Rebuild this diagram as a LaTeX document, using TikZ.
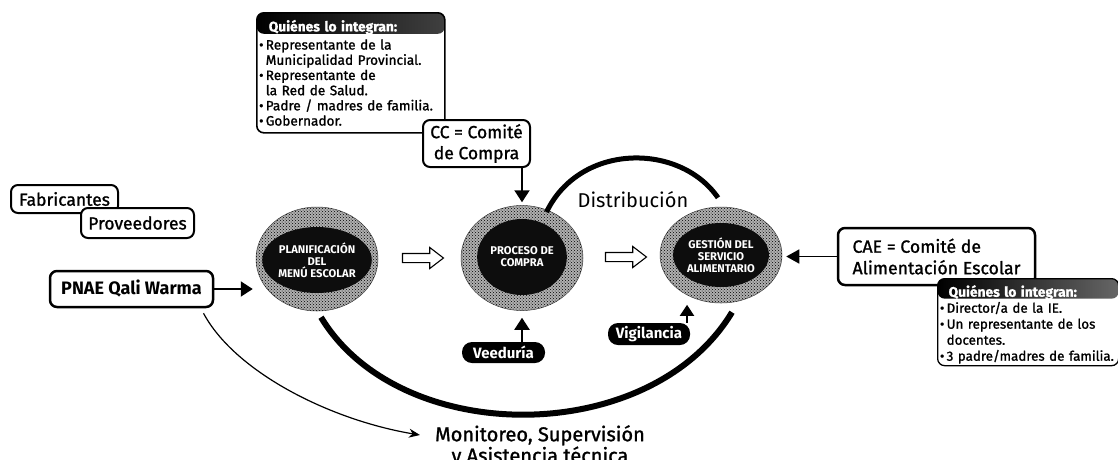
\documentclass[tikz,border=0pt]{standalone}
\usepackage{fontspec}
\setmainfont{Fira Sans}
\newfontfamily\med[FakeBold=1.2]{Fira Sans}
\usetikzlibrary{arrows.meta,shapes.geometric,shapes.arrows,patterns}
\tikzset{
  x=1pt,y=-1pt,
  ring/.style={ellipse,draw=gray!50!black,line width=0.5pt,fill=gray!62,inner sep=0,
     postaction={pattern=crosshatch dots,pattern color=black}},
  core/.style={ellipse,fill=black!95,inner sep=0,text=white,align=center,
     font=\fontsize{11.2}{12}\selectfont\bfseries},
  roundbox/.style={draw=black,line width=2pt,rounded corners=7pt,fill=white,inner sep=0,align=center},
  infobox/.style={draw=black,line width=1.6pt,rounded corners=7pt,fill=white,anchor=north west,
     align=left,inner sep=0,font=\fontsize{13.6}{15.2}\selectfont\med},
  pill/.style={fill=black,rounded corners=10pt,text=white,inner sep=0,
     font=\fontsize{15}{15}\selectfont\bfseries},
  hollow/.style={single arrow,draw=black,line width=1.1pt,fill=white,minimum width=20pt,
     single arrow head extend=6pt,single arrow tip angle=75,inner sep=4pt,minimum height=41pt},
  link/.style={-{Triangle[length=12pt,width=15pt]},line width=2pt,black},
  wide/.style={line width=5pt,black},
}
\newcommand{\bul}{\makebox[9pt][c]{\textbullet}}
\begin{document}
\begin{tikzpicture}
\useasboundingbox (0,0) rectangle (1118,459);
% rings
\node[ring,minimum width=122pt,minimum height=104pt] (plan) at (317,259) {};
\node[ring,minimum width=122pt,minimum height=105pt] (proc) at (522,258) {};
\node[ring,minimum width=122pt,minimum height=96pt] (gest) at (721,255) {};
\node[core,minimum width=90pt,minimum height=66pt] (plancore) at (317,260) {PLANIFICACIÓN\\DEL\\MENÚ ESCOLAR};
\node[core,minimum width=88pt,minimum height=76pt] (proccore) at (522,257) {PROCESO DE\\COMPRA};
\node[core,minimum width=88pt,minimum height=64pt] (gestcore) at (721,255) {GESTIÓN DEL\\SERVICIO\\ALIMENTARIO};
% hollow arrows
\node[hollow] (h1) at (420,258) {};
\node[hollow] (h2) at (623,257) {};
% boxes
\node[infobox,minimum width=188pt,minimum height=120pt,text width=188pt,
  path picture={\shade[left color=black,middle color=black,right color=black!75] (path picture bounding box.north west) rectangle ([yshift=-21pt]path picture bounding box.north east);}]
  (who1) at (256,12) {\hspace*{12pt}\textcolor{white}{\fontsize{13.8}{15}\selectfont\bfseries Quiénes lo integran:}\\[3pt]
  \bul Representante de la\\
  \hspace*{9pt}Municipalidad Provincial.\\
  \bul Representante de\\
  \hspace*{9pt}la Red de Salud.\\
  \bul Padre / madres de familia.\\
  \bul Gobernador.};
\node[roundbox,minimum width=107pt,minimum height=47pt,font=\fontsize{17.5}{21}\selectfont\med] (cc) at (476.5,143.5) {CC = Comité\\de Compra};
\node[roundbox,minimum width=107pt,minimum height=28pt,font=\fontsize{17.5}{18}\selectfont\med] (fab) at (64.5,199) {Fabricantes};
\node[roundbox,minimum width=113pt,minimum height=30pt,font=\fontsize{17.5}{18}\selectfont\med] (prov) at (137.5,223) {Proveedores};
\node[roundbox,line width=2.5pt,minimum width=163pt,minimum height=36pt,font=\fontsize{18}{18}\selectfont\bfseries] (pnae) at (131.5,289) {PNAE Qali Warma};
\node[roundbox,line width=2.5pt,minimum width=197pt,minimum height=57pt,align=left,font=\fontsize{17.7}{21.5}\selectfont\med] (cae) at (936.5,256.5) {CAE = Comité de\\Alimentación Escolar};
\node[infobox,line width=1.3pt,minimum width=181pt,minimum height=87pt,text width=181pt,font=\fontsize{13.4}{16}\selectfont\med,
  path picture={\shade[left color=black,middle color=black,right color=gray!80!black] (path picture bounding box.north west) rectangle ([yshift=-20pt]path picture bounding box.north east);}]
  (who2) at (937,278) {\rule{0pt}{16pt}\hspace*{11pt}\textcolor{white}{\fontsize{13.8}{15}\selectfont\bfseries Quiénes lo integran:}\\
  \bul Director/a de la IE.\\
  \bul Un representante de los\\
  \hspace*{9pt}docentes.\\
  \mbox{\bul 3 padre/madres de familia.}};
\node[pill,minimum width=83pt,minimum height=21pt] (vee) at (503.5,352.5) {Veeduría};
\node[pill,minimum width=82pt,minimum height=22pt] (vig) at (649,334) {Vigilancia};
% labels
\node[font=\fontsize{20}{22}\selectfont,inner sep=0] (dist) at (633,200) {Distribución};
\node[font=\fontsize{20}{19.5}\selectfont\med,align=center,inner sep=0,anchor=north] (moni) at (540,425) {Monitoreo, Supervisión\\y Asistencia técnica};
% connectors
\draw[link] (cc.south -| proc.north) -- ([yshift=3pt]proc.north);
\draw[link] (pnae.east) -- ([xshift=-3pt]plan.west |- pnae.east);
\draw[-{Triangle[length=13pt,width=14pt]},line width=1.6pt] (cae.west) -- ([xshift=4pt]gest.east |- cae.west);
\draw[link] (vee.north -| proc.north) -- ([yshift=-7pt]proc.south);
\draw[-{Triangle[length=11pt,width=14pt]},line width=2pt] ([xshift=38pt]vig.north) -- ([xshift=38pt,yshift=18pt]vig.north);
\draw[wide] ([xshift=-1pt,yshift=-2pt]proc.62) .. controls (580,142.5) and (680,142.5) .. ([xshift=-3pt,yshift=9pt]gest.north);
\draw[line width=6pt] ([xshift=4pt,yshift=-6pt]plan.south) .. controls (400,448) and (650,448) .. ([xshift=11pt,yshift=-9pt]gest.south);
\draw[-{Stealth[length=11pt,width=9pt]},line width=1.2pt] ([xshift=72pt,yshift=-5pt]pnae.south) .. controls (235,372) and (330,420) .. ([xshift=-15pt]moni.west |- 0,435);
\end{tikzpicture}
\end{document}
